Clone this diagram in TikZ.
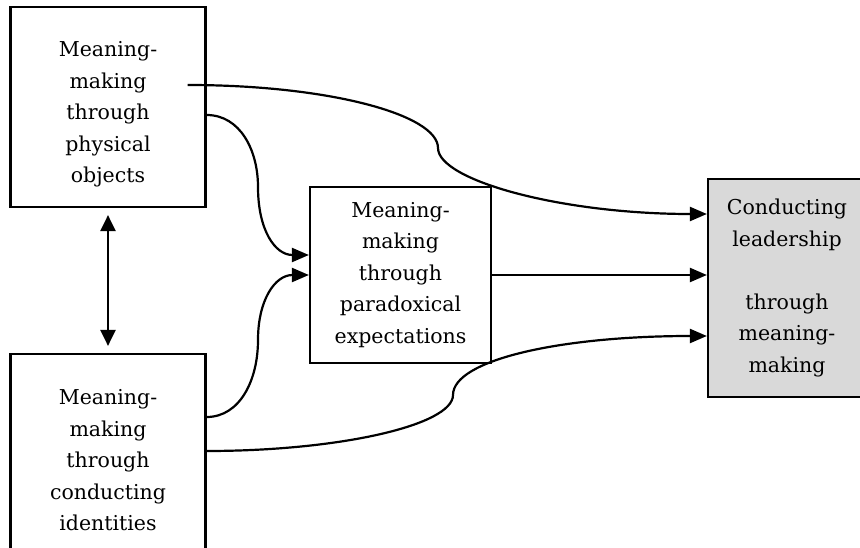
\documentclass[tikz,border=0pt]{standalone}
\usepackage{fontspec}
\setmainfont{DejaVu Serif}
\usetikzlibrary{arrows.meta}
\begin{document}
\begin{tikzpicture}[x=1pt,y=-1pt,
  box/.style={draw,line width=2.2pt,align=center,font=\fontsize{20.5}{31.5}\selectfont},
  link/.style={line width=2.2pt,-{Triangle[length=17pt,width=14pt]}}]
\useasboundingbox (0,0) rectangle (860,548);
\node [box,minimum width=195pt,minimum height=200pt] (obj) at (108,107) {\rule{0pt}{30pt}Meaning-\\making\\through\\physical\\objects};
\node [box,minimum width=195pt,minimum height=198pt] (idn) at (108,453) {\rule{0pt}{30pt}Meaning-\\making\\through\\conducting\\identities};
\node [box,minimum width=181pt,minimum height=176pt] (par) at (400.5,275) {Meaning-\\making\\through\\paradoxical\\expectations};
\node [box,fill=black!15,minimum width=158pt,minimum height=218pt] (lead) at (787,288) {Conducting\\leadership\\[31.5pt]through\\meaning-\\making};
\draw [line width=2.2pt,{Triangle[length=16pt,width=15pt]}-{Triangle[length=16pt,width=15pt]}] ([yshift=-7pt]obj.south) -- ([yshift=7pt]idn.north);
\draw [link] ([xshift=-19pt,yshift=22pt]obj.east) .. controls (330,85) and (438,115) .. (438,148)
  .. controls (438,180) and (560,214) .. ([yshift=74pt]lead.west);
\draw [link] ([yshift=-8pt]obj.east) .. controls (240,115) and (258,150) .. (258,187)
  .. controls (258,230) and (275,255) .. ([yshift=20pt]par.west);
\draw [link] ([yshift=36pt]idn.east) .. controls (240,417) and (258,380) .. (258,340)
  .. controls (258,300) and (275,275) .. (par.west);
\draw [link] (par.east) -- ([yshift=13pt]lead.west);
\draw [link] ([yshift=2pt]idn.east) .. controls (340,451) and (453,425) .. (453,395)
  .. controls (453,360) and (560,336) .. ([yshift=-48pt]lead.west);
\end{tikzpicture}
\end{document}
